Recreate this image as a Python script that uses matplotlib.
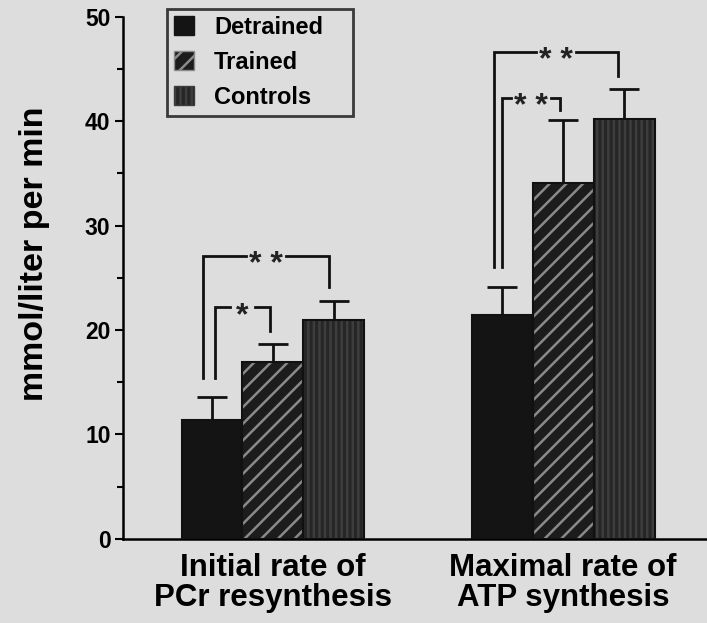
import numpy as np
import matplotlib
matplotlib.use("Agg")
from matplotlib import pyplot as plt
from matplotlib.patches import Patch
from matplotlib.ticker import MultipleLocator

groups = ["Initial rate of\nPCr resynthesis", "Maximal rate of\nATP synthesis"]
series = ["Detrained", "Trained", "Controls"]
means = {
    "Detrained": [11.4, 21.4],
    "Trained": [16.9, 34.1],
    "Controls": [21.0, 40.2],
}
errors = {
    "Detrained": [2.2, 2.7],
    "Trained": [1.8, 6.0],
    "Controls": [1.8, 2.9],
}
# (group, left x offset, right x offset, label, bracket top, left drop, right drop)
sig_brackets = [
    (0, -0.15, 1.92, "* *", 27.1, 15.4, 24.1),
    (0, 0.05, 0.95, "*", 22.2, 15.4, 19.9),
    (1, -0.13, 1.90, "* *", 46.6, 26.0, 44.3),
    (1, 0.0, 0.95, "* *", 42.2, 26.0, 41.1),
]

plt.rcParams["font.family"] = ["Liberation Sans", "DejaVu Sans"]
plt.rcParams["font.weight"] = "bold"
plt.rcParams["hatch.linewidth"] = 1.8

bg = "#dddddd"
ink = "#111111"
styles = {
    "Detrained": dict(facecolor="#141414", hatch=None, hcolor="#141414"),
    "Trained": dict(facecolor="#1c1c1c", hatch="//", hcolor="#8a8a8a"),
    "Controls": dict(facecolor="#262626", hatch="|||", hcolor="#3d3d3d"),
}

fig = plt.figure(figsize=(7.07, 6.23), dpi=100, facecolor=bg)
ax = fig.add_axes([0.174, 0.135, 0.826, 0.838])
ax.set_facecolor(bg)

width = 1.0
group_x = np.array([0.0, 4.76])

for i, name in enumerate(series):
    st = styles[name]
    x = group_x + i * width
    bars = ax.bar(x, means[name], width, color=st["facecolor"],
                  edgecolor=st["hcolor"], linewidth=0, zorder=2)
    for b in bars:
        if st["hatch"]:
            b.set_hatch(st["hatch"])
    ax.bar(x, means[name], width, fill=False, edgecolor=ink,
           linewidth=1.5, zorder=3)
    ax.errorbar(x, means[name], yerr=[np.zeros(2), errors[name]], fmt="none",
                ecolor=ink, elinewidth=2, capsize=11, capthick=2, zorder=1)

# significance brackets, top line broken around the asterisks
for g, off_a, off_b, label, top, ya, yb in sig_brackets:
    xa = group_x[g] + off_a
    xb = group_x[g] + off_b
    xm = (xa + xb) / 2
    gap = 0.33 if len(label) > 1 else 0.2
    ax.plot([xa, xa, xm - gap], [ya, top, top], color=ink, lw=2,
            solid_joinstyle="miter", zorder=4)
    ax.plot([xm + gap, xb, xb], [top, top, yb], color=ink, lw=2,
            solid_joinstyle="miter", zorder=4)
    ax.annotate(label, (xm, top), xytext=(0, -12), textcoords="offset points",
                ha="center", va="baseline", fontsize=23, color="#222222",
                zorder=5)

ax.set_xlim(-1.46, 8.12)
ax.set_ylim(0, 50)
ax.yaxis.set_major_locator(MultipleLocator(10))
ax.yaxis.set_minor_locator(MultipleLocator(5))
ax.tick_params(axis="y", which="major", length=6, width=1.5, labelsize=16.5,
               pad=3)
ax.tick_params(axis="y", which="minor", length=4, width=1.5)
ax.spines["top"].set_visible(False)
ax.spines["right"].set_visible(False)
ax.spines["left"].set_linewidth(1.8)
ax.spines["bottom"].set_linewidth(1.8)
for lab in ax.get_yticklabels():
    lab.set_fontweight("bold")

ax.set_xticks(group_x + width)
ax.set_xticklabels(groups, fontsize=22.5, fontweight="bold", linespacing=1.0)
ax.tick_params(axis="x", length=0, pad=10)

ax.set_ylabel("mmol/liter per min", fontsize=24.5, fontweight="bold")
ax.yaxis.set_label_coords(-0.125, 0.546)

handles = [Patch(facecolor=styles[n]["facecolor"], hatch=styles[n]["hatch"],
                 edgecolor=styles[n]["hcolor"], label=n) for n in series]
leg = ax.legend(handles=handles, loc="upper left",
                bbox_to_anchor=(0.075, 0.0, 0.318, 1.015), mode="expand",
                borderaxespad=0, frameon=True, fancybox=False,
                handlelength=0.85, handleheight=0.85, handletextpad=0.85,
                labelspacing=0.5, borderpad=0.3,
                prop={"weight": "bold", "size": 17})
leg.get_frame().set_edgecolor(ink)
leg.get_frame().set_linewidth(2)
leg.get_frame().set_facecolor(bg)

fig.savefig("out.png", dpi=100, facecolor=bg)
